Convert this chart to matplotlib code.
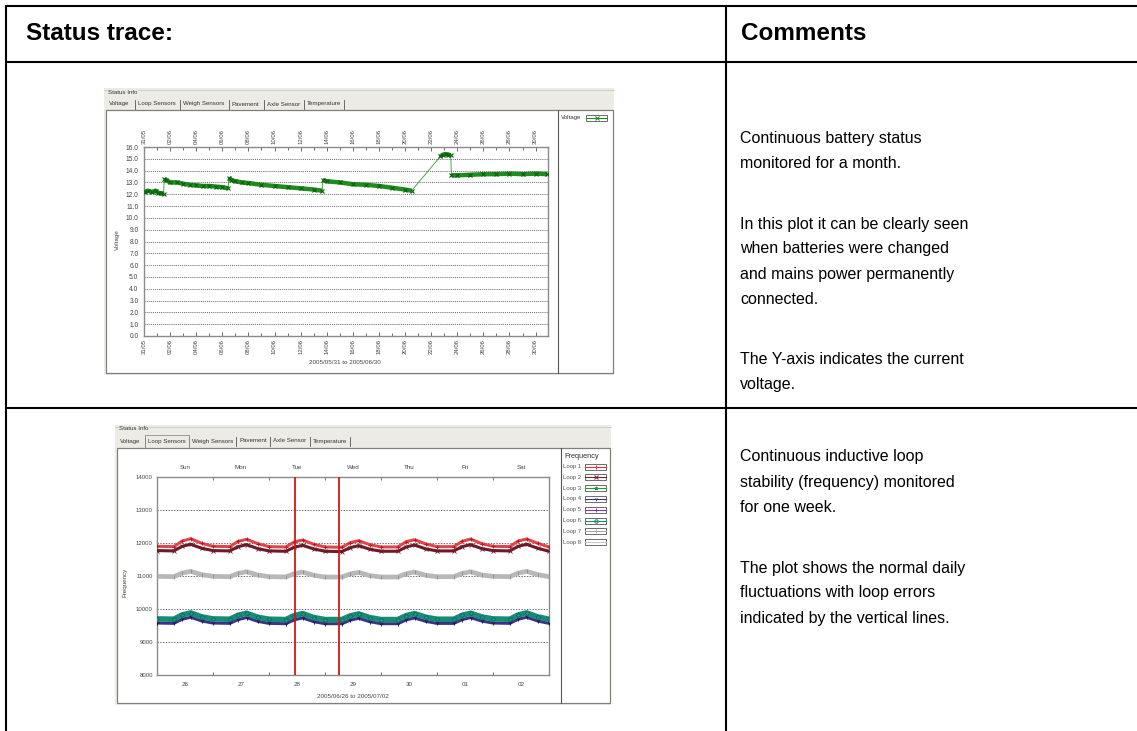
import numpy as np
import matplotlib.pyplot as plt
from matplotlib.patches import Rectangle

plt.rcParams['font.family'] = ['Liberation Sans', 'DejaVu Sans']

W, H = 1137, 731

# ---- voltage trace 2005/05/31 .. 2005/06/30, x in days since 31/05 ----
batt_days = [
    [0.05, 0.3, 0.6, 0.9, 1.1, 1.3, 1.5],
    [1.55, 1.7, 2.0, 2.5, 3.0, 3.5, 4.0, 4.5, 5.0, 5.5, 6.0, 6.45],
    [6.5, 6.7, 7.0, 7.5, 8.0, 9.0, 10.0, 11.0, 12.0, 13.0, 13.65],
    [13.7, 14.0, 15.0, 16.0, 17.0, 18.0, 19.0, 20.0, 20.5],
    [22.7, 22.9, 23.1, 23.3, 23.5],
    [23.55, 24.0, 25.0, 26.0, 27.0, 28.0, 29.0, 30.0, 30.9],
]
batt_volts = [
    [12.2, 12.3, 12.2, 12.3, 12.1, 12.1, 12.0],
    [13.3, 13.2, 13.0, 13.0, 12.9, 12.8, 12.75, 12.7, 12.7, 12.65, 12.6, 12.5],
    [13.4, 13.2, 13.1, 13.0, 12.95, 12.8, 12.7, 12.6, 12.5, 12.4, 12.3],
    [13.2, 13.1, 13.0, 12.85, 12.8, 12.7, 12.55, 12.4, 12.3],
    [15.2, 15.35, 15.4, 15.35, 15.3],
    [13.6, 13.6, 13.65, 13.7, 13.7, 13.75, 13.7, 13.75, 13.7],
]
date_labels = ['31/05', '02/06', '04/06', '06/06', '08/06', '10/06', '12/06', '14/06',
               '16/06', '18/06', '20/06', '22/06', '24/06', '26/06', '28/06', '30/06']

# ---- loop frequencies 2005/06/26 .. 2005/07/02, x in days since 26/06 ----
loop_t = [0.00, 0.30, 0.45, 0.60, 0.80,
          1.00, 1.30, 1.45, 1.60, 1.80,
          2.00, 2.30, 2.45, 2.60, 2.80,
          3.00, 3.30, 3.45, 3.60, 3.80,
          4.00, 4.30, 4.45, 4.60, 4.80,
          5.00, 5.30, 5.45, 5.60, 5.80,
          6.00, 6.30, 6.45, 6.60, 6.80, 7.00]
loop1 = [11900, 11890, 12060, 12130, 11990, 11900, 11890, 12050, 12110, 11980,
         11890, 11880, 12030, 12090, 11960, 11880, 11870, 12010, 12070, 11950,
         11880, 11880, 12040, 12100, 11970, 11890, 11890, 12050, 12120, 11980,
         11900, 11890, 12060, 12120, 11990, 11880]
loop2 = [11770, 11760, 11900, 11960, 11840, 11770, 11760, 11890, 11950, 11830,
         11760, 11750, 11870, 11930, 11820, 11750, 11740, 11860, 11920, 11810,
         11750, 11750, 11880, 11940, 11820, 11760, 11760, 11890, 11950, 11830,
         11770, 11760, 11900, 11960, 11840, 11750]
loop7 = [10990, 10980, 11090, 11140, 11040, 10990, 10980, 11080, 11130, 11030,
         10980, 10970, 11070, 11120, 11020, 10970, 10970, 11060, 11110, 11010,
         10970, 10970, 11070, 11120, 11020, 10980, 10980, 11080, 11130, 11030,
         10990, 10980, 11090, 11140, 11040, 10980]
loop6 = [9700, 9690, 9820, 9880, 9760, 9700, 9690, 9810, 9870, 9750,
         9690, 9680, 9800, 9860, 9740, 9680, 9680, 9790, 9850, 9740,
         9680, 9680, 9800, 9860, 9750, 9690, 9690, 9810, 9870, 9760,
         9700, 9690, 9820, 9880, 9760, 9690]
loop4 = [9575, 9565, 9690, 9750, 9635, 9575, 9565, 9680, 9740, 9625,
         9565, 9555, 9670, 9730, 9615, 9555, 9555, 9660, 9720, 9615,
         9555, 9555, 9670, 9730, 9625, 9565, 9565, 9680, 9740, 9635,
         9575, 9565, 9690, 9750, 9635, 9565]
error_days = [2.46, 3.25]
weekdays = ['Sun', 'Mon', 'Tue', 'Wed', 'Thu', 'Fri', 'Sat']
day_nums = ['26', '27', '28', '29', '30', '01', '02']
loop_names = ['Loop 1', 'Loop 2', 'Loop 3', 'Loop 4', 'Loop 5', 'Loop 6', 'Loop 7', 'Loop 8']
loop_colors = ['#D9363E', '#7A1F2B', '#1E9A3A', '#3B3480', '#7A3E9A', '#178A78', '#A8A8A8', '#C8C8C8']
loop_markers = ['|', 'x', '*', '1', '+', 'o', '|', '_']

tabs = ['Voltage', 'Loop Sensors', 'Weigh Sensors', 'Pavement', 'Axle Sensor', 'Temperature']

comments_1 = [['Continuous battery status', 'monitored for a month.'],
              ['In this plot it can be clearly seen', 'when batteries were changed',
               'and mains power permanently', 'connected.'],
              ['The Y-axis indicates the current', 'voltage.']]
comments_2 = [['Continuous inductive loop', 'stability (frequency) monitored', 'for one week.'],
              ['The plot shows the normal daily', 'fluctuations with loop errors',
               'indicated by the vertical lines.']]

fig = plt.figure(figsize=(W / 100, H / 100), dpi=100)
bg = fig.add_axes([0, 0, 1, 1])
bg.set_xlim(0, W)
bg.set_ylim(H, 0)
bg.axis('off')


def px_axes(x0, y0, x1, y1):
    return fig.add_axes([x0 / W, 1 - y1 / H, (x1 - x0) / W, (y1 - y0) / H])


# table grid
tk = dict(color='black', lw=1.5, solid_capstyle='butt')
bg.plot([6, W], [6, 6], **tk)
bg.plot([6, W], [62, 62], **tk)
bg.plot([6, W], [408, 408], **tk)
bg.plot([6, 6], [5.3, H], **tk)
bg.plot([726, 726], [6, H], **tk)
bg.text(26, 34, 'Status trace:', fontsize=17.5, fontweight='bold', va='center')
bg.text(741, 34, 'Comments', fontsize=17.5, fontweight='bold', va='center')


def write_comments(paras, y, line=25, gap=36):
    for para in paras:
        for s in para:
            bg.text(740, y, s, fontsize=11.5, va='center')
            y += line
        y += gap


write_comments(comments_1, 138)
write_comments(comments_2, 457)


def panel(x0, y0, x1, y1, tab_y, inner_top, leg_x, tab_x, sel):
    bg.add_patch(Rectangle((x0, y0), x1 - x0, y1 - y0, fc='#ECEBE5', ec='none'))
    bg.plot([x0, x1], [y0 + 1.5, y0 + 1.5], color='#C9C8C0', lw=0.6)
    bg.text(x0 + 4, y0 + 4, 'Status Info', fontsize=4.4, color='#333333', va='center',
            bbox=dict(fc='#ECEBE5', ec='none', pad=0.3))
    bg.add_patch(Rectangle((x0 + 2, inner_top), x1 - x0 - 3, y1 - inner_top - 2,
                           fc='white', ec='#808078', lw=0.9))
    bg.plot([leg_x, leg_x], [inner_top, y1 - 2], color='#555555', lw=0.8)
    for i, (name, tx) in enumerate(zip(tabs, tab_x)):
        bg.text(tx, tab_y, name, fontsize=4.4, color='#333333', va='center')
        sep = tab_x[i + 1] - 3 if i + 1 < len(tab_x) else tx + 37
        bg.plot([sep, sep], [tab_y - 4, tab_y + 5], color='#555555', lw=0.6)
    if sel is not None:
        a, b = tab_x[sel] - 3, tab_x[sel + 1] - 3
        bg.plot([a, a, b, b], [inner_top, tab_y - 6, tab_y - 6, inner_top], color='#909088', lw=0.6)


panel(104, 88, 614, 375, 104, 110, 558, [109, 138, 183, 232, 267, 307], None)
panel(115, 425, 611, 705, 441, 448, 561, [120, 148, 192, 239, 273, 313], 1)

# ---------------- chart 1: voltage ----------------
ax1 = px_axes(144, 147, 548, 336)
all_d = [d for seg in batt_days for d in seg]
all_v = [v for seg in batt_volts for v in seg]
ax1.plot(all_d, all_v, color='#2E9A2E', lw=0.6, zorder=3)
for d, v in zip(batt_days, batt_volts):
    ax1.plot(d, v, color='#1E8C1E', lw=3.2, marker='x', ms=3.2, mew=0.8,
             mec='#0E5E0E', zorder=4, solid_capstyle='butt')
ax1.set_xlim(0, 30.95)
ax1.set_ylim(0, 16)
ax1.set_yticks(np.arange(0, 17))
ax1.set_yticklabels([f'{v:.1f}' for v in np.arange(0, 17)])
ax1.set_xticks(np.arange(0, 31, 2))
ax1.set_xticklabels(date_labels, rotation=90)
ax1.set_xticks(np.arange(0, 31), minor=True)
ax1.tick_params(which='both', direction='in', top=True, color='#555555', width=0.6)
ax1.tick_params(which='major', length=3)
ax1.tick_params(which='minor', length=2)
ax1.tick_params(axis='x', labeltop=True, labelsize=4.3, labelcolor='#444444', pad=2)
ax1.tick_params(axis='y', labelsize=4.8, labelcolor='#444444', pad=4, length=0)
ax1.grid(axis='y', color='#333333', lw=0.5, ls=(0, (1.5, 1.5)))
for s in ax1.spines.values():
    s.set_color('#8A8A8A')
    s.set_linewidth(1.0)
bg.text(345, 363, '2005/05/31 to 2005/06/30', fontsize=4.5, color='#444444', ha='center', va='center')
bg.text(117, 240, 'Voltage', fontsize=4.5, color='#444444', ha='center', va='center', rotation=90)

# legend box chart 1
bg.text(561, 117.5, 'Voltage', fontsize=4.4, color='#333333', va='center')
bg.add_patch(Rectangle((586, 114.5), 21, 6, fc='white', ec='#555555', lw=0.6))
bg.plot([586, 607], [117.5, 117.5], color='#1E8C1E', lw=0.8)
bg.plot([596.5], [117.5], marker='x', ms=2.5, mew=0.7, color='#1E8C1E')

# ---------------- chart 2: loop frequencies ----------------
ax2 = px_axes(157, 477, 549, 675)
ax2.plot(loop_t, loop7, color='#B8B8B8', lw=3.4, marker='|', ms=3, mew=0.6, mec='#8E8E8E', zorder=3)
ax2.plot(loop_t, loop2, color='#6E1A28', lw=2.2, marker='x', ms=2.5, mew=0.6, zorder=3)
ax2.plot(loop_t, loop1, color='#E0464C', lw=2.2, marker='+', ms=3, mew=0.6, mec='#B01820', zorder=4)
ax2.plot(loop_t, loop4, color='#3B3480', lw=2.2, marker='1', ms=3, mew=0.6, mec='#1A1050', zorder=3)
ax2.plot(loop_t, loop6, color='#178A78', lw=4.0, marker='o', ms=2.5, mew=0.5, mfc='#1AA08A',
         mec='#0E5A50', zorder=4)
for d in error_days:
    ax2.axvline(d, color='#D01818', lw=1.3, zorder=5)
ax2.set_xlim(0, 7)
ax2.set_ylim(8000, 14000)
ax2.set_yticks(np.arange(8000, 14001, 1000))
ax2.set_xticks(np.arange(1, 7))
ax2.set_xticklabels([])
ax2.set_xticks(np.arange(0.5, 7, 1), minor=True)
ax2.set_xticklabels(day_nums, minor=True)
ax2.tick_params(which='major', direction='in', length=2.5, top=True, color='#555555', width=0.6)
ax2.tick_params(which='minor', length=0, pad=5, labelsize=4.5, labelcolor='#444444')
ax2.tick_params(axis='y', length=0, pad=3, labelsize=4.3, labelcolor='#444444')
sec = ax2.secondary_xaxis('top')
sec.set_xticks(np.arange(0.5, 7, 1))
sec.set_xticklabels(weekdays)
sec.tick_params(length=0, pad=5, labelsize=4.5, labelcolor='#444444')
sec.spines['top'].set_visible(False)
ax2.grid(axis='y', color='#333333', lw=0.5, ls=(0, (2, 2)))
for s in ax2.spines.values():
    s.set_color('#8A8A8A')
    s.set_linewidth(1.0)
bg.text(353, 696, '2005/06/26 to 2005/07/02', fontsize=4.5, color='#444444', ha='center', va='center')
bg.text(125, 582, 'Frequency', fontsize=4.5, color='#444444', ha='center', va='center', rotation=90)

# legend box chart 2
bg.text(564, 456, 'Frequency', fontsize=5.3, color='#333333', va='center')
for i, (name, c, m) in enumerate(zip(loop_names, loop_colors, loop_markers)):
    y = 466.5 + i * 10.8
    bg.text(563, y, name, fontsize=4.3, color='#555555', va='center')
    bg.add_patch(Rectangle((585, y - 3), 21, 6, fc='white', ec='#555555', lw=0.6))
    bg.plot([585, 606], [y, y], color=c, lw=0.8)
    bg.plot([595.5], [y], marker=m, ms=2.5, mew=0.7, color=c, mfc='none')

fig.savefig('out.png', dpi=100)
